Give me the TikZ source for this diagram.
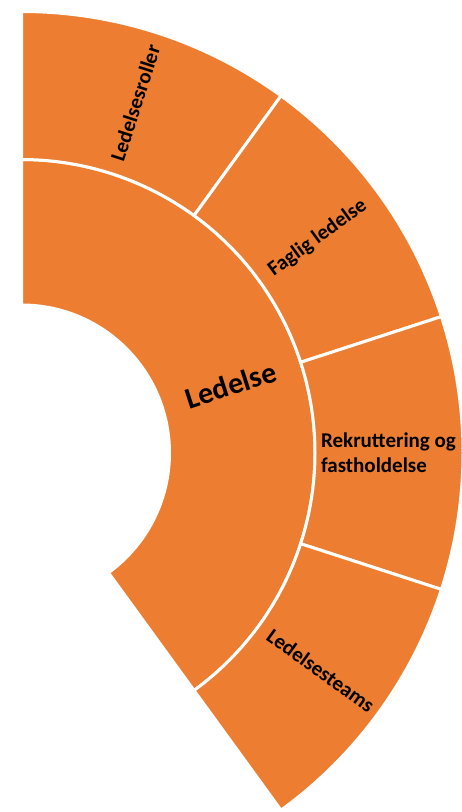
\documentclass[tikz,border=0pt]{standalone}
\usepackage{fontspec}
\setmainfont{Carlito}
\definecolor{segorange}{HTML}{ED7D31}
\newcommand{\ringsector}[4]{%
  \path[seg] (#1:#3) arc[start angle=#1, end angle=#2, radius=#3]
    -- (#2:#4) arc[start angle=#2, end angle=#1, radius=#4] -- cycle;}
\begin{document}
\begin{tikzpicture}[
  seg/.style={fill=segorange, draw=white, line width=3pt, line join=miter},
  outerlabel/.style={font=\bfseries\fontsize{21}{25}\selectfont, text=black, inner sep=0pt},
  innerlabel/.style={font=\bfseries\fontsize{30}{36}\selectfont, text=black, inner sep=0pt}
]
\useasboundingbox (0,0) rectangle (462pt,812pt);
\begin{scope}[shift={(21.5pt,359pt)}]
  % inner ring
  \ringsector{90}{-54}{148pt}{293.5pt}
  % outer ring
  \ringsector{90}{54}{293.5pt}{441.5pt}
  \ringsector{54}{18}{293.5pt}{441.5pt}
  \ringsector{18}{-18}{293.5pt}{441.5pt}
  \ringsector{-18}{-54}{293.5pt}{441.5pt}
  % labels
  \node[innerlabel, rotate=18] (ledelse) at (18:220pt) {Ledelse};
  \node[outerlabel, rotate=72] (roller) at (72:368pt) {Ledelsesroller};
  \node[outerlabel, rotate=36] (faglig) at (36:366pt) {Faglig ledelse};
  \node[outerlabel, align=left] (rekrut) at (0:367pt) {Rekruttering og\\fastholdelse};
  \node[outerlabel, rotate=-36] (teams) at (-36:370pt) {Ledelsesteams};
\end{scope}
\end{tikzpicture}
\end{document}
